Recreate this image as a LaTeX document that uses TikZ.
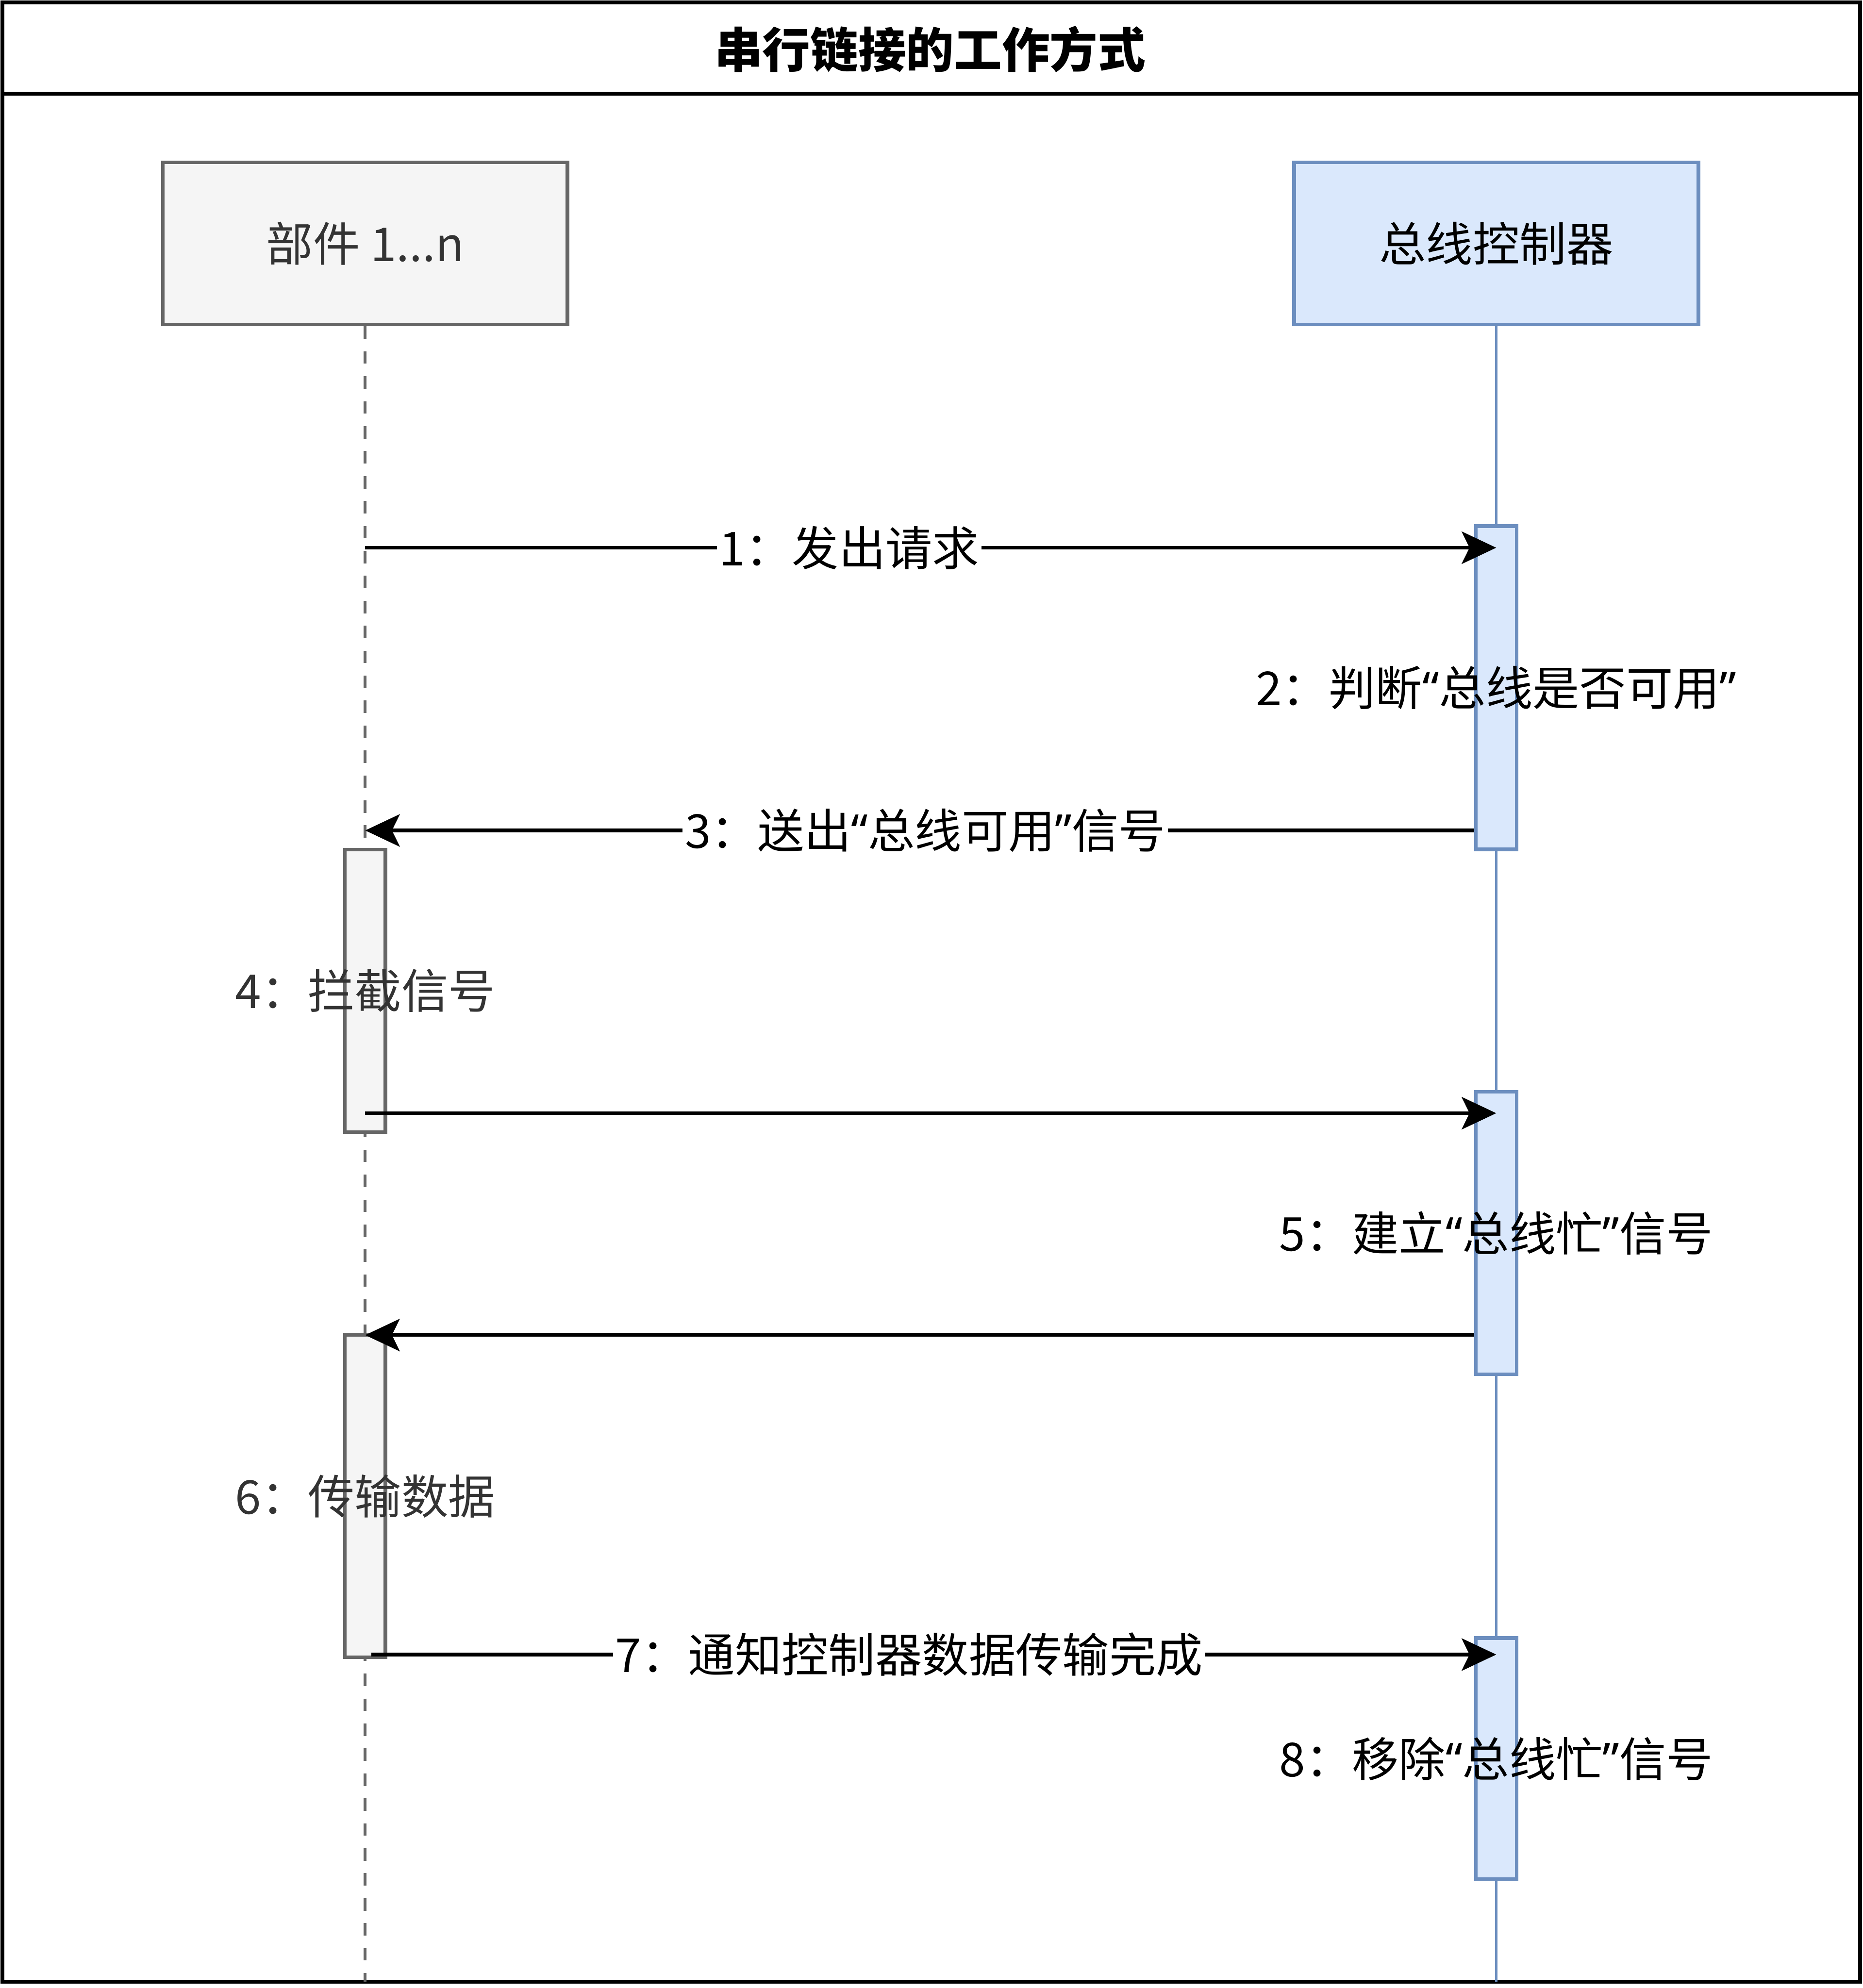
\documentclass[tikz,border=0pt]{standalone}
\usepackage{fontspec}
\setmainfont{Noto Sans CJK SC}
\newfontfamily\quotefont{Noto Sans}
\newcommand{\openq}{{\quotefont “}}
\newcommand{\closeq}{{\quotefont ”}}
\usepackage{tikz}
\usetikzlibrary{arrows.meta,positioning}
\definecolor{devfill}{HTML}{F5F5F5}
\definecolor{devline}{HTML}{666666}
\definecolor{devtext}{HTML}{333333}
\definecolor{ctlfill}{HTML}{DAE8FC}
\definecolor{ctlline}{HTML}{6C8EBF}

\begin{document}
\begin{tikzpicture}[x=0.02cm,y=-0.02cm, line join=miter, >={Stealth[length=15.5pt,width=14.5pt,inset=3.5pt]},
    txt/.style={font=\fontsize{21}{25}\selectfont},
    devbox/.style={txt,draw=devline,fill=devfill,text=devtext,line width=1.6pt,minimum width=6.38cm,minimum height=2.56cm},
    ctlbox/.style={txt,draw=ctlline,fill=ctlfill,line width=1.6pt,minimum width=6.38cm,minimum height=2.56cm},
    devact/.style={draw=devline,fill=devfill,line width=1.6pt,minimum width=0.64cm,inner sep=0pt},
    ctlact/.style={draw=ctlline,fill=ctlfill,line width=1.6pt,minimum width=0.64cm,inner sep=0pt},
    msg/.style={->,line width=1.6pt},
    msglbl/.style={txt,fill=white,inner sep=1pt},
    note/.style={txt,inner sep=0pt}]
    % frame
    \fill[white] (0,0) rectangle (1469,1568);
    \useasboundingbox (0,0) rectangle (1469,1568);
    \draw[line width=1.7pt] (2,2) rectangle (1467,1563);
    \draw[line width=1.7pt] (2,74) -- (1467,74);
    \node[txt,font=\fontsize{21.5}{25}\selectfont\bfseries] (title) at (733.5,39) {串行链接的工作方式};
    % participants
    \node[devbox] (dev) at (288,192) {部件 1...n};
    \node[ctlbox] (ctl) at (1180,192) {总线控制器};
    % lifelines
    \coordinate (devend) at (288,1563);
    \coordinate (ctlend) at (1180,1563);
    \draw[devline,line width=1.3pt,dash pattern=on 5.6pt off 5.6pt] (dev.south) -- (devend);
    \draw[ctlline,line width=1.3pt] (ctl.south) -- (ctlend);
    % activations
    \node[ctlact,minimum height=5.10cm] (ca1) at (1180,542.5) {};
    \node[devact,minimum height=4.46cm] (da1) at (288,781.5) {};
    \node[ctlact,minimum height=4.46cm] (ca2) at (1180,972.5) {};
    \node[devact,minimum height=5.08cm] (da2) at (288,1180) {};
    \node[ctlact,minimum height=3.80cm] (ca3) at (1180,1387) {};
    % messages
    \coordinate (m1) at (288,432);
    \coordinate (m3) at (288,655);
    \coordinate (m5) at (288,878);
    \coordinate (m6) at (288,1053);
    \coordinate (m7) at (293,1305);
    \draw[msg] (m1) -- node[msglbl,pos=0.428] (l1) {1：发出请求} (ca1 |- m1);
    \draw[msg] (ca1.west |- m3) -- node[msglbl,pos=0.495] (l3) {3：送出\openq 总线可用\closeq 信号} (m3);
    \draw[msg] (m5) -- (ca2 |- m5);
    \draw[msg] (ca2.west |- m6) -- (m6);
    \draw[msg] (m7) -- node[msglbl,pos=0.478] (l7) {7：通知控制器数据传输完成} (ca3 |- m7);
    % notes
    \node[note] (l2) at (ca1) {2：判断\openq 总线是否可用\closeq};
    \node[note,text=devtext] (l4) at (da1) {4：拦截信号};
    \node[note] (l5) at (ca2) {5：建立\openq 总线忙\closeq 信号};
    \node[note,text=devtext] (l6) at (da2) {6：传输数据};
    \node[note] (l8) at (ca3) {8：移除\openq 总线忙\closeq 信号};
\end{tikzpicture}
\end{document}
